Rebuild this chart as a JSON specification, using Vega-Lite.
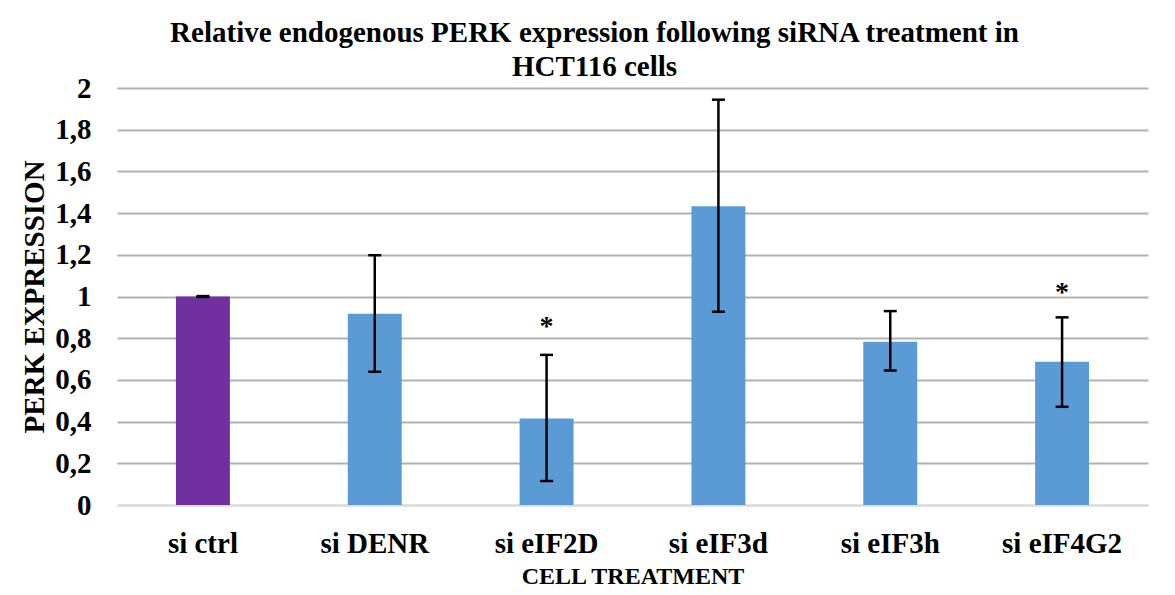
{
  "$schema": "https://vega.github.io/schema/vega-lite/v6.json",
  "width": 1031,
  "height": 417,
  "autosize": "none",
  "padding": {"left": 117, "top": 88, "right": 27, "bottom": 90},
  "background": "white",
  "config": {
    "font": "Liberation Serif",
    "view": {"stroke": null}
  },
  "title": {
    "text": ["Relative endogenous PERK expression following siRNA treatment in", "HCT116 cells"],
    "font": "Liberation Serif",
    "fontSize": 29,
    "fontWeight": "bold",
    "color": "black",
    "anchor": "middle",
    "dx": -38,
    "dy": 14,
    "offset": 6,
    "lineHeight": 34
  },
  "data": {
    "values": [
      {"treatment": "si ctrl", "value": 1.0, "lo": 0.998, "hi": 1.002, "group": "ctrl", "star": null},
      {"treatment": "si DENR", "value": 0.917, "lo": 0.639, "hi": 1.198, "group": "si", "star": null},
      {"treatment": "si eIF2D", "value": 0.415, "lo": 0.115, "hi": 0.72, "group": "si", "star": 0.813},
      {"treatment": "si eIF3d", "value": 1.433, "lo": 0.927, "hi": 1.944, "group": "si", "star": null},
      {"treatment": "si eIF3h", "value": 0.783, "lo": 0.645, "hi": 0.93, "group": "si", "star": null},
      {"treatment": "si eIF4G2", "value": 0.687, "lo": 0.471, "hi": 0.9, "group": "si", "star": 0.979}
    ]
  },
  "encoding": {
    "x": {
      "field": "treatment",
      "type": "nominal",
      "sort": null,
      "scale": {"paddingInner": 0.686, "paddingOuter": 0.343},
      "axis": {
        "title": "CELL TREATMENT",
        "titleFont": "Liberation Serif",
        "titleFontSize": 24,
        "titleFontWeight": "bold",
        "titleColor": "black",
        "titlePadding": 6,
        "labelFont": "Liberation Serif",
        "labelFontSize": 29,
        "labelFontWeight": "bold",
        "labelColor": "black",
        "labelAngle": 0,
        "labelPadding": 24,
        "ticks": false,
        "domainColor": "#d9d9d9",
        "domainWidth": 2
      }
    }
  },
  "layer": [
    {
      "mark": {"type": "bar"},
      "encoding": {
        "y": {
          "field": "value",
          "type": "quantitative",
          "scale": {"domain": [0, 2], "nice": false},
          "axis": {
            "title": "PERK EXPRESSION",
            "titleFont": "Liberation Serif",
            "titleFontSize": 29,
            "titleFontWeight": "bold",
            "titleColor": "black",
            "titlePadding": 5,
            "labelFont": "Liberation Serif",
            "labelFontSize": 29,
            "labelFontWeight": "bold",
            "labelColor": "black",
            "labelPadding": 26,
            "labelExpr": "replace(format(datum.value, '~g'), '.', ',')",
            "values": [0, 0.2, 0.4, 0.6, 0.8, 1, 1.2, 1.4, 1.6, 1.8, 2],
            "ticks": false,
            "domain": false,
            "grid": true,
            "gridColor": {"condition": {"test": "datum.value === 0", "value": "#d9d9d9"}, "value": "#b3b0b0"},
            "gridWidth": 2
          }
        },
        "color": {
          "field": "group",
          "type": "nominal",
          "scale": {"domain": ["ctrl", "si"], "range": ["#7030A0", "#5B9BD5"]},
          "legend": null
        }
      }
    },
    {
      "mark": {"type": "rule", "color": "black", "strokeWidth": 2.5},
      "encoding": {
        "y": {"field": "lo", "type": "quantitative"},
        "y2": {"field": "hi"}
      }
    },
    {
      "mark": {"type": "tick", "color": "black", "thickness": 2.5, "size": 13, "opacity": 1},
      "encoding": {
        "y": {"field": "lo", "type": "quantitative"}
      }
    },
    {
      "mark": {"type": "tick", "color": "black", "thickness": 2.5, "size": 13, "opacity": 1},
      "encoding": {
        "y": {"field": "hi", "type": "quantitative"}
      }
    },
    {
      "transform": [{"filter": "datum.star != null"}],
      "mark": {"type": "text", "text": "*", "font": "Liberation Serif", "fontSize": 28, "fontWeight": "bold", "baseline": "alphabetic", "color": "black"},
      "encoding": {
        "y": {"field": "star", "type": "quantitative"}
      }
    }
  ]
}
